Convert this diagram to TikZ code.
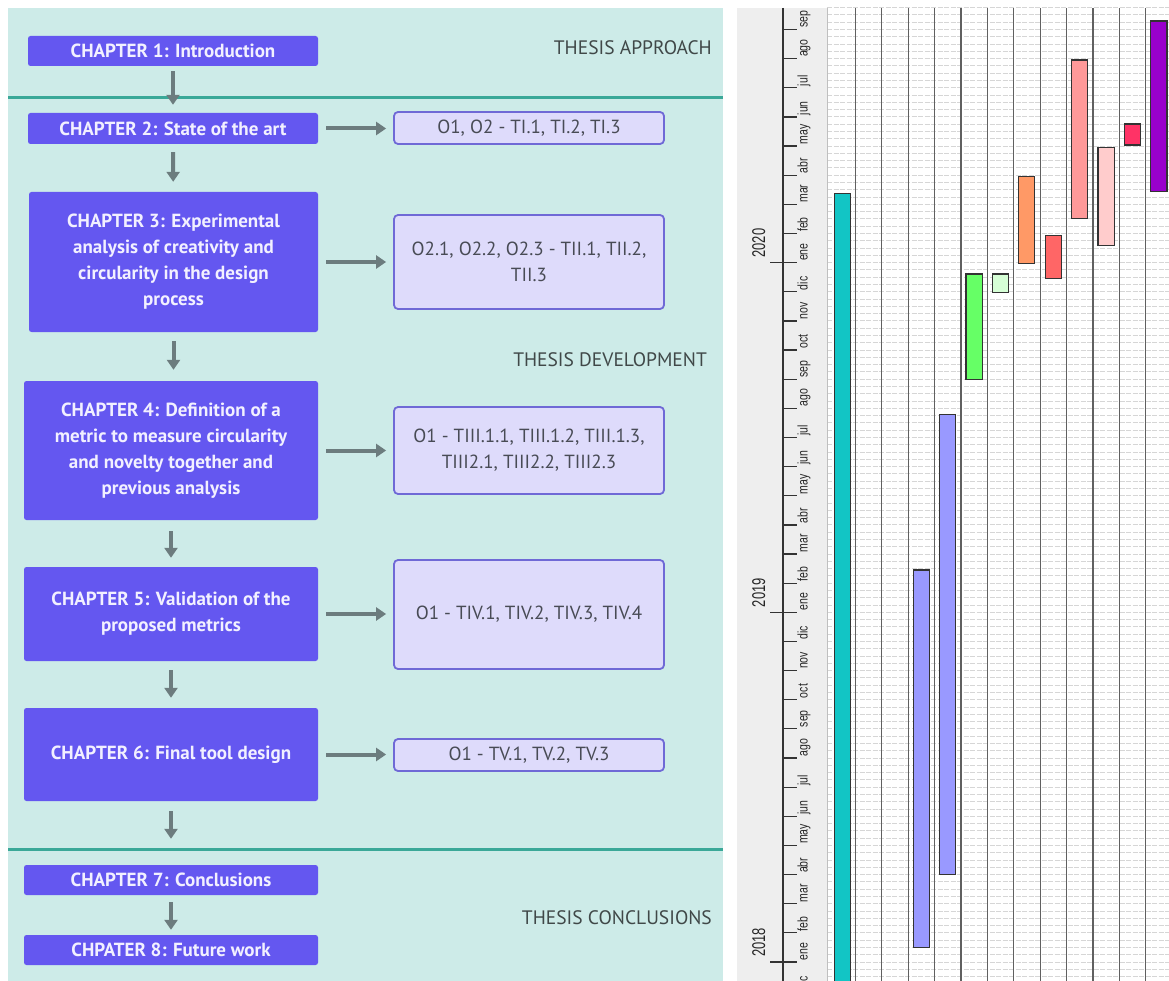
\documentclass[tikz,border=0pt]{standalone}
\usepackage{fontspec}
\setmainfont{PT Sans}
\newfontfamily\chartfont[FakeStretch=0.75]{Liberation Sans}
\newfontfamily\yearfont[FakeStretch=0.7]{Liberation Sans}
\usetikzlibrary{arrows.meta}

% flowchart colours
\definecolor{panelbg}{HTML}{CDEBE8}
\definecolor{divider}{HTML}{3AA898}
\definecolor{chapfill}{HTML}{6457F0}
\definecolor{chaptext}{HTML}{F2F0FF}
\definecolor{taskfill}{HTML}{DEDBFB}
\definecolor{taskdraw}{HTML}{6F69D6}
\definecolor{tasktext}{HTML}{484B55}
\definecolor{flowgrey}{HTML}{6C7C7E}
\definecolor{labelgrey}{HTML}{404848}
% chart colours
\definecolor{axisbg}{HTML}{EEEEEE}
\definecolor{gridgrey}{HTML}{D6D6D6}
\definecolor{colgrey}{HTML}{606060}
\definecolor{bardraw}{HTML}{333333}
\definecolor{barteal}{HTML}{12C5C5}
\definecolor{barblue}{HTML}{9999FF}
\definecolor{bargreen}{HTML}{66FF66}
\definecolor{barmint}{HTML}{D6FFD6}
\definecolor{barorange}{HTML}{FF9966}
\definecolor{barred}{HTML}{FF6666}
\definecolor{barpink}{HTML}{FF9999}
\definecolor{barblush}{HTML}{FFCCCC}
\definecolor{barcrimson}{HTML}{FF3366}
\definecolor{barpurple}{HTML}{9900CC}

\tikzset{
  chapter/.style={fill=chapfill, text=chaptext, rounded corners=2.5pt,
    font=\bfseries\fontsize{19}{26}\selectfont, align=center, inner sep=0pt},
  taskbox/.style={fill=taskfill, draw=taskdraw, line width=1.8pt, rounded corners=4pt,
    text=tasktext, font=\fontsize{19}{26}\selectfont, align=center, inner sep=0pt,
    minimum width=270pt},
  sectionlabel/.style={text=labelgrey, font=\fontsize{19.5}{22}\selectfont, anchor=east, inner sep=0pt},
  flowarrow/.style={draw=flowgrey, line width=4pt, -{Triangle[width=13pt,length=10pt]}},
  dividerline/.style={draw=divider, line width=2.6pt},
  gridline/.style={draw=gridgrey, line width=0.9pt, dash pattern=on 5pt off 1.5pt},
  colline/.style={draw=colgrey, line width=1.2pt},
  axisline/.style={draw=black!80, line width=1.2pt},
  monthlabel/.style={font=\chartfont\fontsize{14}{16}\selectfont, text=black!85,
    rotate=90, anchor=base west, inner sep=0pt},
  yearlabel/.style={font=\yearfont\fontsize{18.5}{20}\selectfont, text=black!85,
    rotate=90, anchor=base west, inner sep=0pt},
  bar/.style={draw=bardraw, line width=1.2pt}
}

\begin{document}
\begin{tikzpicture}[x=1pt,y=-1pt]
\useasboundingbox (0,0) rectangle (1169,981);
\fill[white] (0,0) rectangle (1169,981);

% ---------------- thesis structure ----------------
\fill[panelbg] (8,8) rectangle (723,981);
\draw[dividerline] (8,97.7) -- (723,97.7);
\draw[dividerline] (8,849.3) -- (723,849.3);

\node[sectionlabel] (lapproach) at (712,48) {THESIS APPROACH};
\node[sectionlabel] (ldevelop) at (707,360) {THESIS DEVELOPMENT};
\node[sectionlabel] (lconcl) at (712,918) {THESIS CONCLUSIONS};

\node[chapter, minimum width=290pt, minimum height=30pt] (ch1) at (173,51) {CHAPTER 1: Introduction};
\node[chapter, minimum width=290pt, minimum height=31pt] (ch2) at (173,128.5) {CHAPTER 2: State of the art};
\node[chapter, minimum width=289pt, minimum height=140pt] (ch3) at (173.5,262)
  {CHAPTER 3: Experimental\\analysis of creativity and\\circularity in the design\\process};
\node[chapter, minimum width=294pt, minimum height=139pt] (ch4) at (171,450.5)
  {CHAPTER 4: Definition of a\\metric to measure circularity\\and novelty together and\\previous analysis};
\node[chapter, minimum width=294pt, minimum height=94pt] (ch5) at (171,614)
  {CHAPTER 5: Validation of the\\proposed metrics};
\node[chapter, minimum width=294pt, minimum height=93pt] (ch6) at (171,754.5) {CHAPTER 6: Final tool design};
\node[chapter, minimum width=294pt, minimum height=30pt] (ch7) at (171,880) {CHAPTER 7: Conclusions};
\node[chapter, minimum width=294pt, minimum height=30pt] (ch8) at (171,950) {CHPATER 8: Future work};

\node[taskbox, minimum height=32pt] (t2) at (529,128) {O1, O2 - TI.1, TI.2, TI.3};
\node[taskbox, minimum height=94pt] (t3) at (529,262) {O2.1, O2.2, O2.3 - TII.1, TII.2,\\TII.3};
\node[taskbox, minimum height=87pt] (t4) at (529,450.5) {O1 - TIII.1.1, TIII.1.2, TIII.1.3,\\TIII2.1, TIII2.2, TIII2.3};
\node[taskbox, minimum height=109pt] (t5) at (529,614.5) {O1 - TIV.1, TIV.2, TIV.3, TIV.4};
\node[taskbox, minimum height=32pt] (t6) at (529,755) {O1 - TV.1, TV.2, TV.3};

% chapter sequence
\draw[flowarrow, shorten <=5pt, shorten >=8pt] (ch1) -- (ch2);
\draw[flowarrow, shorten <=8pt, shorten >=10pt] (ch2) -- (ch3);
\draw[flowarrow, shorten <=9pt, shorten >=11pt] (ch3.south) -- (ch3.south |- ch4.north);
\draw[flowarrow, shorten <=11pt, shorten >=9pt] (ch4) -- (ch5);
\draw[flowarrow, shorten <=9pt, shorten >=10pt] (ch5) -- (ch6);
\draw[flowarrow, shorten <=10pt, shorten >=26pt] (ch6) -- (ch7);
\draw[flowarrow, shorten <=7pt, shorten >=5pt] (ch7) -- (ch8);

% chapter to objectives/tasks
\foreach \c/\t in {ch2/t2, ch3/t3, ch4/t4, ch5/t5, ch6/t6}
  \draw[flowarrow, shorten <=8pt, shorten >=7pt] (\c.east) -- (\c.east -| \t.west);

% ---------------- timeline chart ----------------
\begin{scope}
\clip (737,8) rectangle (1169,981);
\fill[axisbg] (737,8) rectangle (827,981);
% weekly grid
\foreach \k in {-3,...,131}
  \draw[gridline] (827,{962-7.285*\k}) -- (1169,{962-7.285*\k});
\draw[draw=black!25, line width=1pt] (827,8) -- (827,981);
% task columns
\foreach \i in {0,...,11}
  \draw[colline] ({855.3+26.4*\i},8) -- ({855.3+26.4*\i},981);
% time axis
\draw[axisline] (783,8) -- (783,981);
\foreach \m in {-1,...,32}
  \draw[axisline] (783,{962-29.14*\m}) -- (797,{962-29.14*\m});
\foreach \m in {0,12,24}
  \draw[axisline] (770,{962-29.14*\m}) -- (797,{962-29.14*\m});
\foreach \lab [count=\i from -1] in {dic,ene,feb,mar,abr,may,jun,jul,ago,sep,oct,nov,dic,
    ene,feb,mar,abr,may,jun,jul,ago,sep,oct,nov,dic,
    ene,feb,mar,abr,may,jun,jul,ago,sep}
  \node[monthlabel] (month\i) at (807.5,{962-29.14*\i-1.5}) {\lab};
\node[yearlabel] (y2018) at (765,{962-29.14*0-5}) {2018};
\node[yearlabel] (y2019) at (765,{962-29.14*12-5}) {2019};
\node[yearlabel] (y2020) at (765,{962-29.14*24-5}) {2020};
% activity bars
\filldraw[bar, fill=barteal]    (834.2,193.3) rectangle (850.2,995);
\filldraw[bar, fill=barblue]    (913.3,570)   rectangle (929.3,947.3);
\filldraw[bar, fill=barblue]    (939.5,414.3) rectangle (955.7,874.3);
\filldraw[bar, fill=bargreen]   (966,274)     rectangle (982.2,379.3);
\filldraw[bar, fill=barmint]    (992.3,274)   rectangle (1008.3,292.3);
\filldraw[bar, fill=barorange]  (1018.7,176.3) rectangle (1034.7,263.3);
\filldraw[bar, fill=barred]     (1045.3,235.7) rectangle (1061.3,278.3);
\filldraw[bar, fill=barpink]    (1071.7,60)    rectangle (1087.7,218.3);
\filldraw[bar, fill=barblush]   (1098,147.7)   rectangle (1114.3,245.3);
\filldraw[bar, fill=barcrimson] (1124.3,124)   rectangle (1140.5,145);
\filldraw[bar, fill=barpurple]  (1150.7,21)    rectangle (1167,191.7);
\end{scope}
\end{tikzpicture}
\end{document}
